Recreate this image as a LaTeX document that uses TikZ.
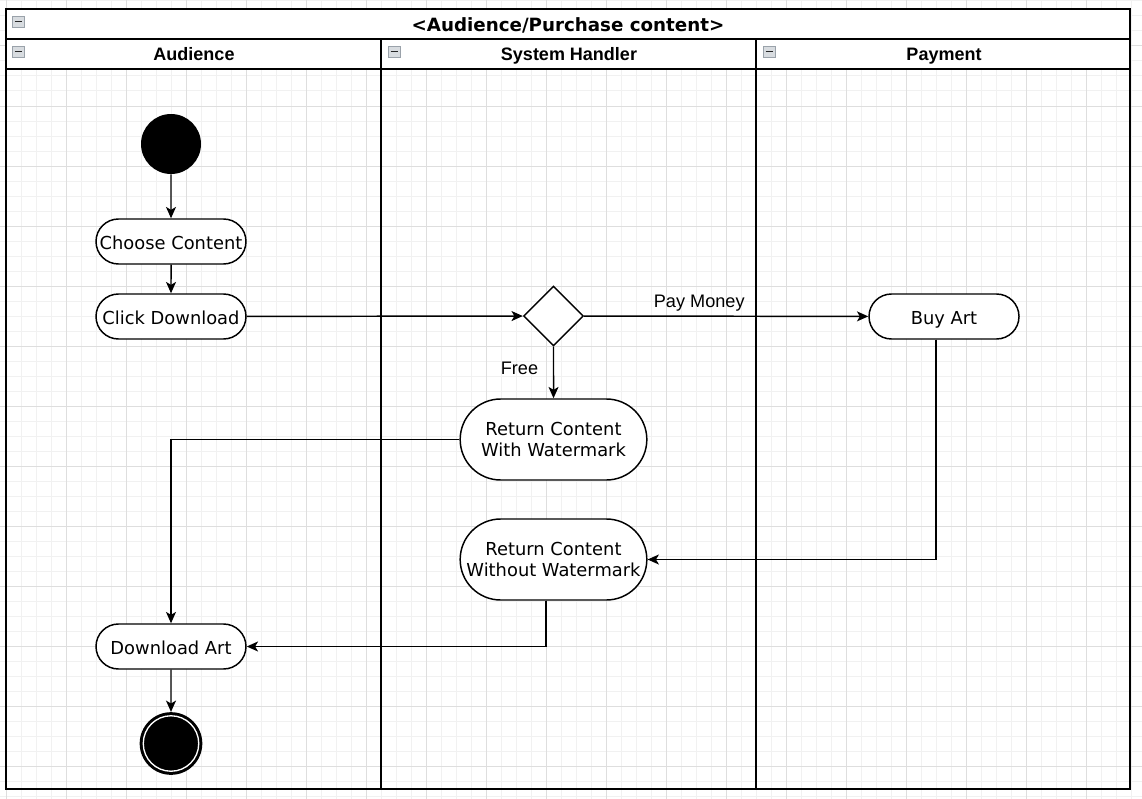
\documentclass[tikz,border=0pt]{standalone}
\usepackage{fontspec}
\setmainfont{DejaVu Sans}
\newfontfamily\arialfont{Liberation Sans}
\usetikzlibrary{shapes.misc,shapes.geometric,arrows.meta}
\definecolor{gridminor}{HTML}{F1F1F1}
\definecolor{gridmajor}{HTML}{DEDEDE}
\definecolor{iconborder}{HTML}{9AA2AA}
\definecolor{iconfill}{HTML}{D8DCE0}
\tikzset{
  actbox/.style={draw=black, line width=1.1pt, fill=white, rounded rectangle, inner sep=0pt,
    font=\fontsize{13.4}{16.3}\selectfont, align=center},
  onebox/.style={actbox, minimum width=112.5pt, minimum height=33.75pt, text height=12.2pt, text depth=0.6pt},
  twobox/.style={actbox, minimum width=140pt, minimum height=60.75pt},
  flow/.style={draw=black, line width=1.1pt, -{Stealth[length=8.5pt,width=7.5pt,inset=2.2pt]}},
  poolline/.style={draw=black, line width=1.4pt},
  hdrtext/.style={font=\arialfont\bfseries\fontsize{13.5}{15}\selectfont, text height=9.8pt, text depth=2.8pt, inner sep=0pt},
  lbl/.style={font=\arialfont\fontsize{13.6}{15}\selectfont, inner sep=1pt},
  minusicon/.pic={
    \draw[iconborder, fill=iconfill, line width=0.6pt] (0,0) rectangle (12,11);
    \draw[black!85, line width=1.3pt] (2.5,5.5) -- (9.5,5.5);
  }
}
\begin{document}
\begin{tikzpicture}[x=0.75pt,y=-0.75pt]
\useasboundingbox (0,0) rectangle (1142,799);
% background grid
\fill[white] (0,0) rectangle (1142,799);
\foreach \xx in {6,21,...,1141} {\draw[gridminor, line width=0.75pt] (\xx,0) -- (\xx,799);}
\foreach \yy in {1,16,...,799} {\draw[gridminor, line width=0.75pt] (0,\yy) -- (1142,\yy);}
\foreach \xx in {6,66,...,1141} {\draw[gridmajor, line width=0.75pt] (\xx,0) -- (\xx,799);}
\foreach \yy in {46,106,...,799} {\draw[gridmajor, line width=0.75pt] (0,\yy) -- (1142,\yy);}
% pool headers
\fill[white] (6,9) rectangle (1130,69);
\draw[poolline] (6,9) rectangle (1130,789);
\draw[poolline] (6,39) -- (1130,39);
\draw[poolline] (6,69) -- (1130,69);
\draw[poolline] (381,39) -- (381,789);
\draw[poolline] (756,39) -- (756,789);
\node[font=\bfseries\fontsize{13.7}{15}\selectfont, text height=10pt, text depth=3pt, inner sep=0pt] (title) at (568,26.5) {<Audience/Purchase content>};
\node[hdrtext] (laneA) at (194,56) {Audience};
\node[hdrtext] (laneB) at (569,56) {System Handler};
\node[hdrtext] (laneC) at (944,56) {Payment};
\pic at (12,16) {minusicon};
\pic at (12,46) {minusicon};
\pic at (388,46) {minusicon};
\pic at (763,46) {minusicon};
% nodes
\node[circle, fill=black, minimum size=45pt, inner sep=0pt] (start) at (171,144) {};
\node[onebox] (choose) at (171,241.5) {Choose Content};
\node[onebox] (click) at (171,316.5) {Click Download};
\node[diamond, draw=black, line width=1.1pt, fill=white, minimum size=45pt, inner sep=0pt, aspect=1] (dec) at (553.5,316) {};
\node[onebox] (buy) at (944,316.5) {Buy Art};
\node[twobox] (retw) at (553.5,439.5) {Return Content\\With Watermark};
\node[twobox] (retn) at (553.5,559.5) {Return Content\\Without Watermark};
\node[onebox] (dl) at (171,646.5) {Download Art};
\node[circle, fill=black, minimum size=47pt, inner sep=0pt] (fin) at (171,743.5) {};
\draw[white, line width=1pt] (fin.center) circle (20.8pt);
% edges
\draw[flow] (start) -- (choose);
\draw[flow] (choose) -- (click);
\draw[flow] (click) -- (dec);
\draw[flow] (dec) -- node[lbl, above, pos=0.405, yshift=2.5pt] (paylbl) {Pay Money} (buy);
\draw[flow] (dec) -- node[lbl, left, pos=0.42, xshift=-10pt] (freelbl) {Free} (retw);
\draw[flow] (retw.west) -| (dl.north);
\draw[flow] ([xshift=-6pt]buy.south) |- (retn.east);
\draw[flow] ([xshift=-5.6pt]retn.south) |- (dl.east);
\draw[flow] (dl) -- (fin);
\end{tikzpicture}
\end{document}
